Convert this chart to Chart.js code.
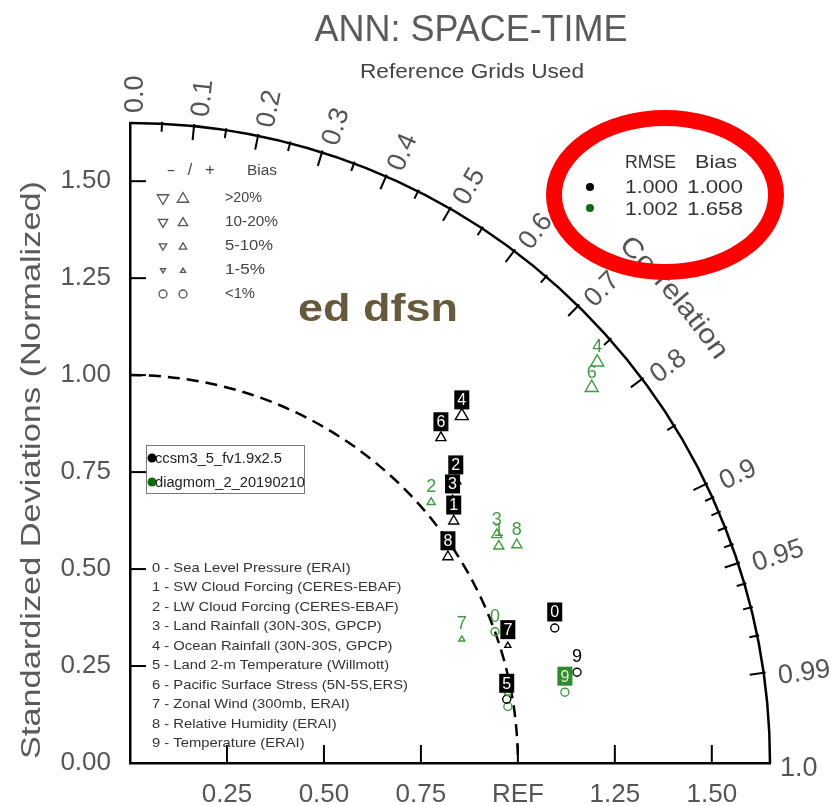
<!DOCTYPE html>
<html><head><meta charset="utf-8">
<script src="https://cdn.jsdelivr.net/npm/chart.js@4.4.1/dist/chart.umd.min.js"></script>
<style>html,body{margin:0;padding:0;background:#fff;overflow:hidden}canvas{display:block}</style>
</head><body>
<canvas id="c" width="832" height="805"></canvas>
<script>
// ---------- data ----------
const caseIds = ['0','1','2','3','4','5','6','7','8','9'];
const caseNames = [
  'Sea Level Pressure (ERAI)',
  'SW Cloud Forcing (CERES-EBAF)',
  'LW Cloud Forcing (CERES-EBAF)',
  'Land Rainfall (30N-30S, GPCP)',
  'Ocean Rainfall (30N-30S, GPCP)',
  'Land 2-m Temperature (Willmott)',
  'Pacific Surface Stress (5N-5S,ERS)',
  'Zonal Wind (300mb, ERAI)',
  'Relative Humidity (ERAI)',
  'Temperature (ERAI)'
];
const models = ['ccsm3_5_fv1.9x2.5', 'diagmom_2_20190210'];
// normalized standard deviation, correlation, bias (%)
const sdModel1   = [1.149, 1.042, 1.111, 1.073, 1.238, 0.985, 1.160, 1.020, 0.977, 1.176];
const corrModel1 = [0.953, 0.801, 0.756, 0.775, 0.691, 0.986, 0.691, 0.955, 0.839, 0.980];
const biasModel1 = [0.6, 14, 13, 8, 24, 0.7, 15, 3, 13, 0.5];
const sdModel2   = [1.000, 1.103, 1.027, 1.114, 1.587, 0.985, 1.534, 0.913, 1.145, 1.136];
const corrModel2 = [0.941, 0.862, 0.756, 0.849, 0.759, 0.989, 0.776, 0.937, 0.871, 0.987];
const biasModel2 = [0.4, 12, 7, 12, 28, 0.8, 26, 3, 12, 0.6];
const rmseScore = ['1.000', '1.002'];
const biasScore = ['1.000', '1.658'];
const stdTicks = [0, 0.25, 0.5, 0.75, 1.0, 1.25, 1.5];
const xTicks = [0.25, 0.5, 0.75, 1.0, 1.25, 1.5];
const corrMajor = [0.0, 0.1, 0.2, 0.3, 0.4, 0.5, 0.6, 0.7, 0.8, 0.9, 0.95, 0.99, 1.0];
const corrMinor = [0.05, 0.15, 0.25, 0.35, 0.45, 0.55, 0.65, 0.75, 0.85, 0.91, 0.92, 0.93, 0.94, 0.96, 0.97, 0.98];
const biasClasses = ['>20%', '10-20%', '5-10%', '1-5%', '<1%'];
const maxStd = 1.65;

// ---------- helpers ----------
const FONT = "'Liberation Sans', Arial, sans-serif";
const GREEN = '#3f9c3f';
const toXY = (sd, r) => ({ x: sd * r, y: sd * Math.sqrt(1 - r * r) });
const sizeFor = b => { const a = Math.abs(b); return a < 1 ? 4 : a < 5 ? 3.5 : a < 10 ? 4.6 : a < 20 ? 5.8 : 7.5; };
const styleFor = b => Math.abs(b) < 1 ? 'circle' : 'triangle';
const rotFor = b => b < 0 ? 180 : 0;

function fitText(ctx, text, x, y, w, font, color, align, baseline, rot) {
  ctx.save();
  ctx.translate(x, y);
  if (rot) ctx.rotate(rot);
  ctx.font = font;
  const m = ctx.measureText(text).width;
  if (w) ctx.scale(w / m, 1);
  ctx.textAlign = align || 'center';
  ctx.textBaseline = baseline || 'middle';
  ctx.fillStyle = color;
  ctx.fillText(text, 0, 0);
  ctx.restore();
}
function triangle(ctx, x, y, r, down) {
  ctx.beginPath();
  for (let k = 0; k < 3; k++) {
    const a = (down ? Math.PI : 0) + k * 2 * Math.PI / 3;
    const px = x + Math.sin(a) * r, py = y - Math.cos(a) * r;
    if (k === 0) ctx.moveTo(px, py); else ctx.lineTo(px, py);
  }
  ctx.closePath();
  ctx.stroke();
}

const taylorPlugin = {
  id: 'taylor',
  beforeDraw(chart) {
    const ctx = chart.ctx;
    ctx.save(); ctx.fillStyle = '#fff'; ctx.fillRect(0, 0, chart.width, chart.height); ctx.restore();
  },
  beforeDatasetsDraw(chart) {
    const ctx = chart.ctx, xs = chart.scales.x, ys = chart.scales.y;
    const ox = xs.getPixelForValue(0), oy = ys.getPixelForValue(0);
    const unit = xs.getPixelForValue(1) - ox;
    const R = xs.getPixelForValue(maxStd) - ox;
    ctx.save();
    ctx.strokeStyle = '#000';
    // outer arc
    ctx.lineWidth = 2.5;
    ctx.beginPath(); ctx.arc(ox, oy, R, -Math.PI / 2, 0); ctx.stroke();
    // dashed REF arc
    ctx.setLineDash([12, 7]);
    ctx.beginPath(); ctx.arc(ox, oy, unit, -Math.PI / 2, 0); ctx.stroke();
    ctx.setLineDash([]);
    // axis ticks (inward)
    ctx.lineWidth = 2;
    stdTicks.filter(v => v > 0).forEach(v => {
      const py = ys.getPixelForValue(v);
      ctx.beginPath(); ctx.moveTo(ox, py); ctx.lineTo(ox + 16, py); ctx.stroke();
    });
    xTicks.forEach(v => {
      const px = xs.getPixelForValue(v);
      ctx.beginPath(); ctx.moveTo(px, oy); ctx.lineTo(px, oy - 18); ctx.stroke();
    });
    // correlation ticks
    const tick = (r, len) => {
      const th = Math.acos(r), c = Math.cos(th), s = Math.sin(th);
      ctx.beginPath(); ctx.moveTo(ox + (R + 2) * c, oy - (R + 2) * s); ctx.lineTo(ox + (R - len) * c, oy - (R - len) * s); ctx.stroke();
    };
    corrMajor.filter(r => r > 0 && r < 1).forEach(r => tick(r, 14));
    corrMinor.forEach(r => tick(r, 8));
    // correlation labels
    ctx.font = '27px ' + FONT; ctx.fillStyle = '#555';
    corrMajor.forEach(r => {
      const th = Math.acos(r);
      const lab = r === 0 ? '0.0' : r === 1 ? '1.0' : String(r);
      const gap = r >= 0.9 && r < 1 ? 14 : 10;
      ctx.save();
      ctx.translate(ox + (R + gap) * Math.cos(th), oy - (R + gap) * Math.sin(th));
      ctx.rotate(-th);
      ctx.textAlign = 'left'; ctx.textBaseline = 'middle';
      ctx.fillText(lab, 0, 6);
      ctx.restore();
    });
    // "Correlation" along arc
    {
      const word = 'Correlation', rho = R + 78;
      ctx.font = '27px ' + FONT;
      const total = ctx.measureText(word).width;
      const target = 152, sc = target / total;
      let a = 46.6 * Math.PI / 180;
      for (const ch of word) {
        const w = ctx.measureText(ch).width * sc;
        const am = a - (w / 2) / rho;
        ctx.save();
        ctx.translate(ox + rho * Math.cos(am), oy - rho * Math.sin(am));
        ctx.rotate(Math.PI / 2 - am);
        ctx.scale(sc, 1);
        ctx.textAlign = 'center'; ctx.textBaseline = 'middle';
        ctx.fillStyle = '#555';
        ctx.fillText(ch, 0, 0);
        ctx.restore();
        a -= w / rho;
      }
    }
    // titles
    fitText(ctx, 'ANN: SPACE-TIME', 471, 31, 313, '36px ' + FONT, '#5a5a5a');
    fitText(ctx, 'Reference Grids Used', 472, 72, 224, '20px ' + FONT, '#444');
    fitText(ctx, 'Standardized Deviations (Normalized)', 33, 470, 578, '27px ' + FONT, '#5a5a5a', 'center', 'middle', -Math.PI / 2);

    // bias legend
    ctx.strokeStyle = '#555'; ctx.lineWidth = 1.3;
    fitText(ctx, '-', 171, 171, 9, '15px ' + FONT, '#444');
    fitText(ctx, '/', 190, 171, 0, '16px ' + FONT, '#444');
    fitText(ctx, '+', 210, 171, 0, '16px ' + FONT, '#444');
    fitText(ctx, 'Bias', 247, 171, 30, '14px ' + FONT, '#444', 'left');
    const legR = [6.5, 5.4, 4.3, 2.9];
    const legWidths = [37, 53, 48, 40, 30];
    biasClasses.forEach((t, k) => {
      const y = 198 + k * 24;
      if (k < 4) { triangle(ctx, 163, y, legR[k], true); triangle(ctx, 183, y + 1, legR[k], false); }
      else { ctx.beginPath(); ctx.arc(163, y, 4, 0, 2 * Math.PI); ctx.stroke(); ctx.beginPath(); ctx.arc(183, y, 4, 0, 2 * Math.PI); ctx.stroke(); }
      fitText(ctx, t, 225, y, legWidths[k], '14px ' + FONT, '#444', 'left');
    });

    // model legend box
    ctx.strokeStyle = '#777'; ctx.lineWidth = 1;
    ctx.strokeRect(146.5, 445.5, 158, 48);
    ctx.fillStyle = '#000'; ctx.beginPath(); ctx.arc(152, 458, 4.5, 0, 2 * Math.PI); ctx.fill();
    ctx.fillStyle = '#0a6e0a'; ctx.beginPath(); ctx.arc(152, 482, 4.5, 0, 2 * Math.PI); ctx.fill();
    fitText(ctx, models[0], 155, 459, 127, '14px ' + FONT, '#222', 'left');
    fitText(ctx, models[1], 155, 483, 150, '14px ' + FONT, '#222', 'left');

    // case list
    ctx.font = '13px ' + FONT;
    const lines = caseIds.map((c, i) => c + ' - ' + caseNames[i]);
    const sc = 256 / ctx.measureText(lines[6]).width;
    lines.forEach((t, i) => {
      ctx.save(); ctx.translate(152, 568 + i * 19.5); ctx.scale(sc, 1);
      ctx.textAlign = 'left'; ctx.textBaseline = 'middle'; ctx.fillStyle = '#333';
      ctx.fillText(t, 0, 0); ctx.restore();
    });
    ctx.restore();
  },
  afterDatasetsDraw(chart) {
    const ctx = chart.ctx;
    const drawLabel = (el, txt, boxed, color) => {
      const x = el.x, y = el.y - 16;
      ctx.save();
      ctx.textAlign = 'center'; ctx.textBaseline = 'middle';
      if (boxed) {
        ctx.fillStyle = color; ctx.fillRect(x - 7.5, y - 9.5, 15, 19);
        ctx.fillStyle = color === '#000' ? '#fff' : '#d8f2d8';
        ctx.font = '16px ' + FONT; ctx.fillText(txt, x, y + 1);
      } else {
        ctx.fillStyle = color; ctx.font = '18px ' + FONT; ctx.fillText(txt, x, y + 1);
      }
      ctx.restore();
    };
    const m2 = chart.getDatasetMeta(1), m1 = chart.getDatasetMeta(0);
    m2.data.forEach((el, i) => drawLabel(el, caseIds[i], i === 9, i === 9 ? '#2e8b2e' : GREEN));
    m1.data.forEach((el, i) => drawLabel(el, caseIds[i], i !== 9, '#000'));
  },
  afterDraw(chart) {
    const ctx = chart.ctx;
    ctx.save();
    // overlay text
    fitText(ctx, 'ed dfsn', 298, 321, 160, 'bold 38px ' + FONT, '#675a3c', 'left', 'alphabetic');
    // score table
    fitText(ctx, 'RMSE', 625, 163, 51, '19px ' + FONT, '#333', 'left');
    fitText(ctx, 'Bias', 695, 163, 42, '19px ' + FONT, '#333', 'left');
    fitText(ctx, rmseScore[0], 625, 188, 53, '19px ' + FONT, '#333', 'left');
    fitText(ctx, biasScore[0], 687, 188, 56, '19px ' + FONT, '#333', 'left');
    fitText(ctx, rmseScore[1], 625, 210, 53, '19px ' + FONT, '#333', 'left');
    fitText(ctx, biasScore[1], 687, 210, 56, '19px ' + FONT, '#333', 'left');
    ctx.fillStyle = '#000'; ctx.beginPath(); ctx.arc(590, 187, 4, 0, 2 * Math.PI); ctx.fill();
    ctx.fillStyle = '#116b11'; ctx.beginPath(); ctx.arc(590, 208, 4, 0, 2 * Math.PI); ctx.fill();
    // red ring
    ctx.strokeStyle = '#ff0000'; ctx.lineWidth = 16;
    ctx.beginPath(); ctx.ellipse(665, 195, 111, 77, 0, 0, 2 * Math.PI); ctx.stroke();
    ctx.restore();
  }
};

const mkSet = (label, sd, corr, bias, color) => ({
  label,
  data: sd.map((s, i) => toXY(s, corr[i])),
  pointStyle: bias.map(styleFor),
  pointRotation: bias.map(rotFor),
  pointRadius: bias.map(sizeFor),
  pointBorderColor: color,
  pointBackgroundColor: 'rgba(0,0,0,0)',
  pointBorderWidth: 1.4,
  showLine: false
});

new Chart(document.getElementById('c'), {
  type: 'scatter',
  data: {
    datasets: [
      mkSet(models[0], sdModel1, corrModel1, biasModel1, '#000'),
      mkSet(models[1], sdModel2, corrModel2, biasModel2, GREEN)
    ]
  },
  options: {
    responsive: false,
    animation: false,
    events: [],
    layout: { padding: { top: 123, right: 62, left: 0, bottom: 0 } },
    plugins: { legend: { display: false }, tooltip: { enabled: false }, title: { display: false } },
    scales: {
      x: {
        type: 'linear', min: 0, max: maxStd, bounds: 'data',
        afterBuildTicks: s => { s.ticks = xTicks.map(v => ({ value: v })); },
        afterFit: s => { s.height = 42; },
        grid: { display: false, drawTicks: false },
        border: { display: true, color: '#000', width: 2.5 },
        ticks: { callback: v => v === 1 ? 'REF' : v.toFixed(2), font: { family: FONT, size: 26 }, color: '#555', padding: 16, maxRotation: 0, autoSkip: false }
      },
      y: {
        type: 'linear', min: 0, max: maxStd, bounds: 'data',
        afterBuildTicks: s => { s.ticks = stdTicks.map(v => ({ value: v })); },
        afterFit: s => { s.width = 130; },
        grid: { display: false, drawTicks: false },
        border: { display: true, color: '#000', width: 2.5 },
        ticks: { callback: v => v.toFixed(2), font: { family: FONT, size: 26 }, color: '#555', padding: 19, autoSkip: false }
      }
    }
  },
  plugins: [taylorPlugin]
});
</script>
</body></html>
